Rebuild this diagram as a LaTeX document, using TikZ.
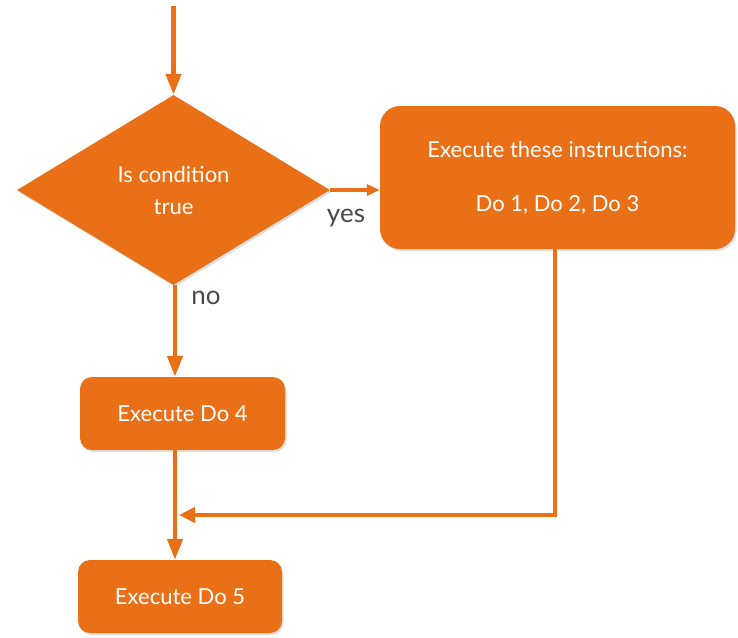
\documentclass[tikz,border=0pt]{standalone}
\usepackage{fontspec}
\setmainfont{Lato}
\newfontfamily\labelfont{Lato}
\usetikzlibrary{shapes.geometric,arrows.meta,shadows}
\definecolor{flow}{HTML}{EA7018}
\definecolor{lbl}{HTML}{484848}
\tikzset{
  shade/.style={drop shadow={opacity=0.25,shadow xshift=1.5pt,shadow yshift=-2pt}},
  boxstyle/.style={fill=flow,draw=none,text=white,align=center,inner sep=0pt,shade,
    font=\fontsize{22}{32}\selectfont},
  decision/.style={boxstyle,diamond,aspect=1.65,minimum width=313pt,minimum height=190pt},
  conn/.style={draw=flow,line width=4.5pt},
  arrbig/.style={conn,-{Triangle[length=21pt,width=15pt]}},
  arrsmall/.style={conn,line width=3.5pt,-{Triangle[length=13pt,width=11pt]}},
  lab/.style={text=lbl,font=\labelfont\fontsize{26}{30}\selectfont,inner sep=0pt}
}
\begin{document}
\begin{tikzpicture}[x=1pt,y=-1pt]
\useasboundingbox (0,0) rectangle (738,637);
\coordinate (start) at (173.5,6);
\node[decision] (d) at (173.5,190) {Is condition\\true};
\node[boxstyle,rounded corners=20pt,minimum width=355pt,minimum height=143pt] (r) at (557.5,177.5)
  {Execute these instructions:\\[22pt]Do 1, Do 2, Do 3};
\node[boxstyle,rounded corners=12pt,minimum width=205pt,minimum height=73pt] (do4) at (182.5,413.5) {Execute Do 4};
\node[boxstyle,rounded corners=12pt,minimum width=204pt,minimum height=73pt] (do5) at (180,596.5) {Execute Do 5};
\coordinate (j) at (555,515);
\draw[arrbig] (start) -- (d.north);
\draw[arrsmall] (d.east) -- (d.east -| r.west);
\draw[arrbig] ([xshift=1.5pt]d.south) -- ([xshift=1.5pt]d.south |- do4.north);
\draw[arrbig] ([xshift=1.5pt]d.south |- do4.south) -- ([xshift=1.5pt]d.south |- do5.north);
\draw[arrbig,-{Triangle[length=16pt,width=15pt]},shorten >=4pt] (r.south -| j) |- ([xshift=1.5pt]j -| d.south);
\node[lab] (yes) at (346,218) {yes};
\node[lab] (no) at (206,298) {no};
\end{tikzpicture}
\end{document}
